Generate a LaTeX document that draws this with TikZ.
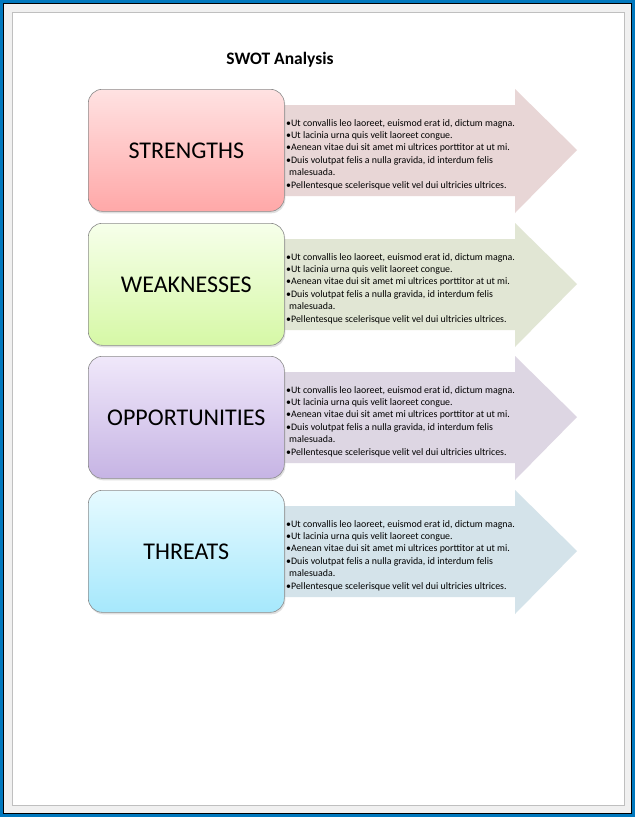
\documentclass[tikz,border=0pt]{standalone}
\usepackage{fontspec}
\setmainfont{Carlito}
\usetikzlibrary{shadows}
\definecolor{frameblue}{RGB}{0,120,190}
\definecolor{sArr}{RGB}{232,214,214}
\definecolor{wArr}{RGB}{225,230,212}
\definecolor{oArr}{RGB}{221,214,227}
\definecolor{tArr}{RGB}{212,227,234}
\definecolor{sTop}{RGB}{255,226,226}
\definecolor{sBot}{RGB}{255,168,168}
\definecolor{wTop}{RGB}{246,255,234}
\definecolor{wBot}{RGB}{214,248,166}
\definecolor{oTop}{RGB}{240,232,250}
\definecolor{oBot}{RGB}{198,180,228}
\definecolor{tTop}{RGB}{230,250,255}
\definecolor{tBot}{RGB}{166,232,252}
\tikzset{
  lbl/.style={rounded corners=14pt, draw=black!45, line width=0.6pt, minimum width=196pt, minimum height=122pt, anchor=north west, font=\fontsize{24}{28}\selectfont, drop shadow={opacity=0.25, shadow xshift=1pt, shadow yshift=-2pt}},
  txt/.style={anchor=north west, inner sep=0pt, align=left, font=\fontsize{9.9}{12.4}\selectfont},
}
\newcommand{\swotrow}[6]{%
  \fill[#6] (284,-#2-16) -- (515,-#2-16) -- (515,-#2) -- (577,-#2-61) -- (515,-#2-124) -- (515,-#2-107) -- (284,-#2-107) -- cycle;
  \node[lbl, top color=#4, bottom color=#5] (#1) at (88,-#2) {#3};
  \node[txt] (#1t) at (286,-#2-30) {•Ut convallis leo laoreet, euismod erat id, dictum magna.\\
  •Ut lacinia urna quis velit laoreet congue.\\
  •Aenean vitae dui sit amet mi ultrices porttitor at ut mi.\\
  •Duis volutpat felis a nulla gravida, id interdum felis\\
  \hspace*{3pt}malesuada.\\
  •Pellentesque scelerisque velit vel dui ultricies ultrices.};
}
\begin{document}
\begin{tikzpicture}[x=1pt,y=1pt]
\useasboundingbox (0,0) rectangle (635,-817);
\fill[frameblue] (0,0) rectangle (635,-817);
\fill[black] (3,-3) rectangle (632,-814);
\fill[gray!12] (4,-4) rectangle (631,-813);
\filldraw[fill=white, draw=gray!50, line width=1pt] (12,-12) rectangle (624,-805);
\node[font=\bfseries\fontsize{17.5}{20}\selectfont] (title) at (280,-60) {SWOT Analysis};
\swotrow{s}{89}{STRENGTHS}{sTop}{sBot}{sArr}
\swotrow{w}{223}{WEAKNESSES}{wTop}{wBot}{wArr}
\swotrow{o}{356}{OPPORTUNITIES}{oTop}{oBot}{oArr}
\swotrow{t}{490}{THREATS}{tTop}{tBot}{tArr}
\end{tikzpicture}
\end{document}
